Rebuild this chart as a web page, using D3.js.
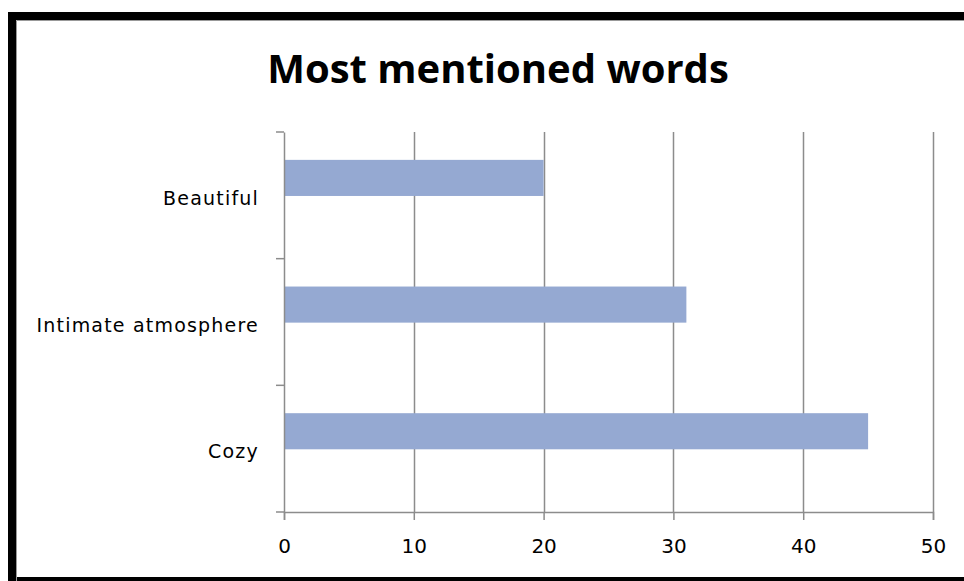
<!DOCTYPE html>
<html><head><meta charset="utf-8">
<script src="https://cdn.jsdelivr.net/npm/d3@7/dist/d3.min.js"></script>
<style>body{margin:0;background:#fff}svg{display:block}</style>
</head><body>
<script>
const categories = ["Beautiful", "Intimate atmosphere", "Cozy"];
const values = [20, 31, 45];
const xTicks = [0, 10, 20, 30, 40, 50];
const title = "Most mentioned words";

(function () {
const W = 964, H = 581;
const svg = d3.select("body").append("svg").attr("width", W).attr("height", H);

svg.append("rect").attr("x", 12).attr("y", 16).attr("width", 1000).attr("height", 565)
  .attr("fill", "#fff").attr("stroke", "#000").attr("stroke-width", 8);
svg.append("path").attr("d", "M16.5," + H + "V20.5H" + W).attr("fill", "none").attr("stroke", "#999").attr("stroke-width", 1);

svg.append("text").attr("x", 498).attr("y", 83).attr("text-anchor", "middle")
  .attr("font-family", "Open Sans, sans-serif").attr("font-weight", "bold").attr("font-size", 40)
  .attr("fill", "#000").text(title);

const pl = 284, pr = 933, pt = 132, pb = 512;
const x = d3.scaleLinear().domain([0, 50]).range([pl, pr]);
const y = d3.scaleBand().domain(categories).range([pt, pb]).padding(0);

const gridC = "#8c8c8c";
svg.append("g").selectAll("line").data(xTicks.filter(d => d > 0)).join("line")
  .attr("x1", d => Math.round(x(d)) + 0.5).attr("x2", d => Math.round(x(d)) + 0.5)
  .attr("y1", pt).attr("y2", pb).attr("stroke", gridC).attr("stroke-width", 1.5);

svg.append("g").selectAll("rect").data(values).join("rect")
  .attr("x", x(0)).attr("y", (d, i) => y(categories[i]) + y.bandwidth() * 0.22)
  .attr("width", d => x(d) - x(0)).attr("height", y.bandwidth() * 0.285)
  .attr("fill", "#95a9d2");

const xa = svg.append("g").attr("transform", `translate(0,${pb})`)
  .call(d3.axisBottom(x).tickValues(xTicks).tickSize(8).tickPadding(19));
xa.select(".domain").attr("stroke", gridC).attr("stroke-width", 1.5);
xa.selectAll(".tick line").attr("stroke", gridC).attr("stroke-width", 1.5);
xa.selectAll("text").attr("font-family", "DejaVu Sans, sans-serif").attr("font-size", 20).attr("fill", "#000");

const ya = svg.append("g").attr("transform", `translate(${pl},0)`)
  .call(d3.axisLeft(y).tickSize(0).tickPadding(25));
ya.select(".domain").attr("stroke", gridC).attr("stroke-width", 1.5);
ya.selectAll("text").attr("font-family", "DejaVu Sans, sans-serif").attr("font-size", 19)
  .attr("letter-spacing", 1.2).attr("dy", "0.5em").attr("fill", "#000");
svg.append("g").selectAll("line").data(d3.range(categories.length + 1)).join("line")
  .attr("x1", pl - 8).attr("x2", pl)
  .attr("y1", i => pt + i * y.bandwidth()).attr("y2", i => pt + i * y.bandwidth())
  .attr("stroke", gridC).attr("stroke-width", 1.5);
})();
</script>
</body></html>
